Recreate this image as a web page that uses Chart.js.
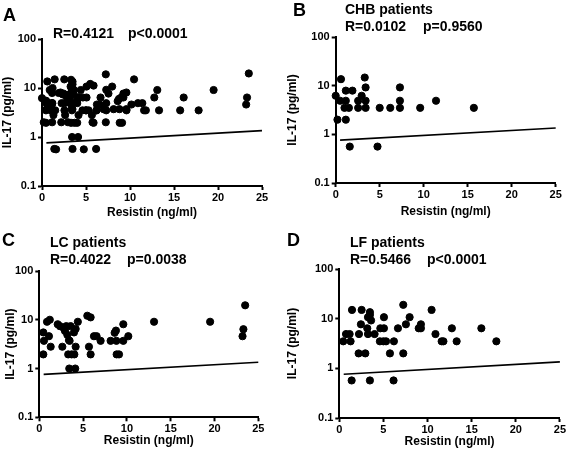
<!DOCTYPE html>
<html>
<head>
<meta charset="utf-8">
<script src="https://cdn.jsdelivr.net/npm/chart.js@4/dist/chart.umd.min.js"></script>
<style>
  body { margin: 0; background: #fff; }
  #wrap { position: relative; width: 567px; height: 454px; overflow: hidden; }
  canvas { position: absolute; }
  .lbl { position: absolute; font-family: "Liberation Sans", Arial, sans-serif; font-weight: bold; color: #000; white-space: nowrap; }
  .big { font-size: 18px; line-height: 18px; }
  .txt { font-size: 14px; line-height: 14px; }
</style>
</head>
<body>
<div id="wrap">
  <canvas id="chartA" width="283" height="225" style="left:0;top:0"></canvas>
  <canvas id="chartB" width="284" height="225" style="left:283px;top:0"></canvas>
  <canvas id="chartC" width="283" height="229" style="left:0;top:225px"></canvas>
  <canvas id="chartD" width="284" height="229" style="left:283px;top:225px"></canvas>

  <div class="lbl big" style="left:3px;top:5.5px">A</div>
  <div class="lbl txt" style="left:53px;top:25.5px">R=0.4121</div>
  <div class="lbl txt" style="left:128px;top:25.5px">p&lt;0.0001</div>

  <div class="lbl big" style="left:293px;top:1px">B</div>
  <div class="lbl txt" style="left:345px;top:1.5px">CHB patients</div>
  <div class="lbl txt" style="left:345px;top:19px">R=0.0102</div>
  <div class="lbl txt" style="left:423px;top:19px">p=0.9560</div>

  <div class="lbl big" style="left:2px;top:231px">C</div>
  <div class="lbl txt" style="left:50px;top:235px">LC patients</div>
  <div class="lbl txt" style="left:50px;top:251.5px">R=0.4022</div>
  <div class="lbl txt" style="left:127px;top:251.5px">p=0.0038</div>

  <div class="lbl big" style="left:287px;top:231px">D</div>
  <div class="lbl txt" style="left:350px;top:235px">LF patients</div>
  <div class="lbl txt" style="left:350px;top:251.5px">R=0.5466</div>
  <div class="lbl txt" style="left:427px;top:251.5px">p&lt;0.0001</div>
</div>
<script>
// CHB patients
const chbResistin = [0, 0.2, 0.6, 0.5, 1.15, 1.9, 1.15, 1.0, 1.5, 1.15, 1.6, 2.55, 2.55, 2.95, 3.3, 3.4, 3.4, 3.4, 4.75, 5.0, 6.2, 7.3, 7.3, 7.3, 9.6, 11.4, 15.7];
const chbIL17     = [6.2, 2.0, 13.6, 4.9, 7.9, 7.9, 4.9, 3.5, 3.5, 2.0, 0.56, 4.9, 3.5, 6.2, 14.7, 9.2, 4.9, 3.5, 0.56, 3.5, 3.5, 9.2, 4.9, 3.5, 3.5, 4.9, 3.5];

// LC patients
const lcResistin = [0.46, 0.53, 0.46, 0.88, 1.2, 1.1, 1.3, 2.1, 2.36, 2.63, 2.74, 2.93, 3.08, 3.2, 3.39, 3.3, 3.58, 3.46, 3.42, 3.69, 3.96, 4.15, 4.0, 4.15, 4.1, 4.4, 5.48, 5.86, 5.67, 5.86, 6.24, 6.54, 7.0, 8.14, 8.6, 8.75, 8.8, 8.83, 9.1, 9.59, 9.59, 10.16, 13.1, 19.5, 23.2, 23.3, 23.5];
const lcIL17     = [5.5, 3.7, 1.95, 9.1, 10, 4.6, 2.8, 8.1, 7.4, 2.8, 6.9, 5.9, 7.4, 4.9, 3.8, 1.95, 7.4, 3.7, 1.0, 1.95, 5.5, 6.5, 1.95, 2.8, 1.0, 9.1, 12.1, 11.2, 2.8, 1.95, 4.6, 4.6, 3.7, 3.7, 5.4, 6.0, 3.7, 1.95, 1.95, 8.1, 3.7, 4.6, 9.1, 9.1, 4.6, 6.4, 19.8];

// LF patients
const lfResistin = [0.45, 0.76, 1.17, 1.28, 1.44, 1.4, 2.23, 2.19, 2.45, 2.53, 2.95, 3.17, 3.25, 3.25, 3.47, 3.47, 3.6, 3.47, 4.0, 4.6, 4.65, 5.0, 5.06, 5.06, 5.3, 5.74, 6.19, 6.15, 6.65, 7.25, 7.25, 7.55, 7.97, 9.0, 9.25, 9.25, 10.46, 10.9, 11.6, 11.8, 13.3, 12.76, 16.1, 17.8];
const lfIL17     = [3.5, 4.9, 4.9, 3.5, 15, 0.57, 4.9, 2.0, 7.7, 15, 2.0, 6.4, 4.9, 10.7, 13.5, 11.9, 9.2, 0.57, 4.9, 3.5, 6.4, 3.5, 10.7, 6.4, 3.5, 2.0, 3.5, 0.57, 6.4, 19, 2.0, 7.7, 10.7, 6.4, 7.7, 6.4, 15, 4.9, 3.5, 3.5, 3.5, 6.4, 6.4, 3.5];

// all patients = the three groups together
const allResistin = chbResistin.concat(lcResistin, lfResistin);
const allIL17 = chbIL17.concat(lcIL17, lfIL17);

// regression line ends
const fitX = [0.5, 25];
const fitY = [0.76, 1.35];

const yTicks = [0.1, 1, 10, 100];

Chart.defaults.font.family = '"Liberation Sans", Arial, sans-serif';
Chart.defaults.color = '#000';

function toPoints(xs, ys){
    return xs.map((x, i) => ({x: x, y: ys[i]}));
}

function makePanel(id, xs, ys, box){
    const ctx = document.getElementById(id).getContext('2d');
    new Chart(ctx, {
        type: 'scatter',
        data: {
            datasets: [{
                data: toPoints(xs, ys),
                backgroundColor: '#000',
                borderColor: '#000',
                pointRadius: 3.6,
                pointHoverRadius: 3.6,
                clip: false,
            }, {
                data: toPoints(fitX, fitY),
                showLine: true,
                borderColor: '#000',
                borderWidth: 1.6,
                pointRadius: 0,
                fill: false,
                clip: false,
            }]
        },
        options: {
            responsive: false,
            animation: false,
            layout: {padding: {left: box.padL, right: box.padR, top: box.padT, bottom: box.padB}},
            plugins: {legend: {display: false}, tooltip: {enabled: false}},
            scales: {
                x: {
                    type: 'linear', min: 0, max: 25,
                    ticks: {stepSize: 5, padding: 1, color: '#000', font: {size: 11, weight: 'bold'}},
                    grid: {drawOnChartArea: false, tickLength: 4, tickWidth: 2, color: '#000'},
                    border: {color: '#000', width: 2},
                    title: {display: true, text: 'Resistin (ng/ml)', padding: 0, color: '#000', font: {size: 12, weight: 'bold'}},
                    afterFit: (s) => { s.height = box.xH; }
                },
                y: {
                    type: 'logarithmic', min: 0.1, max: 100,
                    afterBuildTicks: (s) => { s.ticks = yTicks.map(v => ({value: v})); },
                    ticks: {padding: 2, color: '#000', font: {size: 11, weight: 'bold'}, callback: (v) => String(v)},
                    grid: {drawOnChartArea: false, tickLength: 4, tickWidth: 2, color: '#000'},
                    border: {color: '#000', width: 2},
                    title: {display: true, text: 'IL-17 (pg/ml)', padding: 0, color: '#000', font: {size: 12, weight: 'bold'}},
                    afterFit: (s) => { s.width = box.yW; }
                }
            }
        }
    });
}

makePanel('chartA', allResistin, allIL17, {padL: 0, yW: 42, padR: 21, padT: 39, padB: 4.8, xH: 34.2});
makePanel('chartB', chbResistin, chbIL17, {padL: 2, yW: 50.7, padR: 11.3, padT: 37, padB: 6.1, xH: 35.9});
makePanel('chartC', lcResistin, lcIL17, {padL: 3, yW: 36.3, padR: 24.7, padT: 46, padB: 6.3, xH: 30.4});
makePanel('chartD', lfResistin, lfIL17, {padL: 2, yW: 54.3, padR: 7, padT: 44, padB: 5.3, xH: 30.7});
</script>
</body>
</html>
